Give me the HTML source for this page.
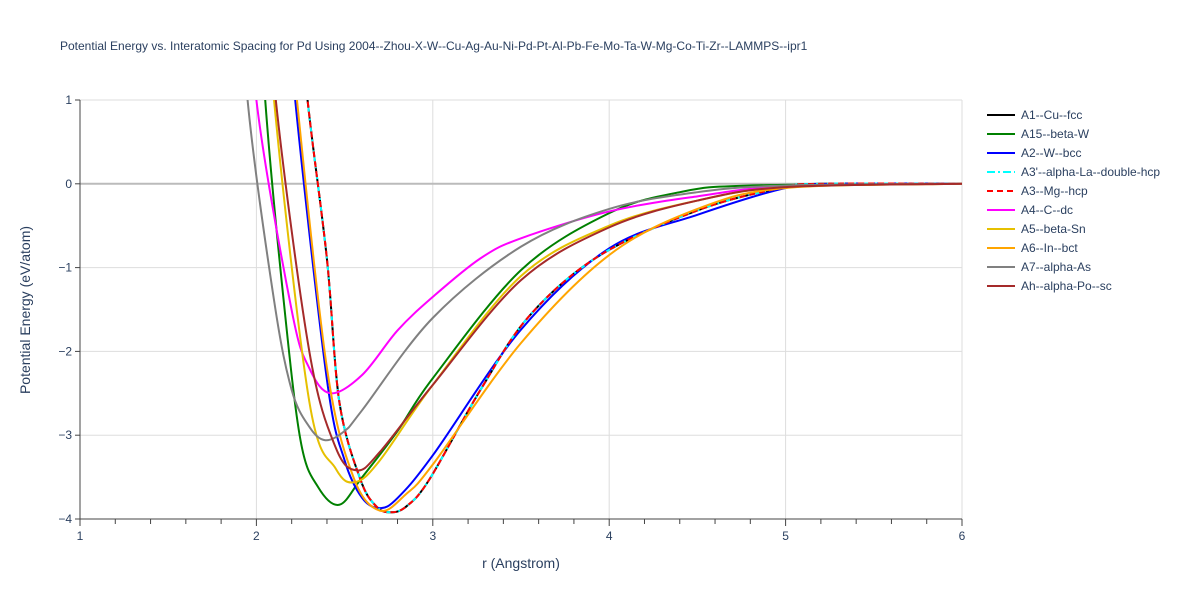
<!DOCTYPE html>
<html><head><meta charset="utf-8"><style>
body{margin:0;background:#fff;font-family:"Liberation Sans",sans-serif}
svg text{font-family:"Liberation Sans",sans-serif;fill:#2a3f5f}
</style></head><body>
<svg width="1200" height="600">
<text x="60" y="50" font-size="12">Potential Energy vs. Interatomic Spacing for Pd Using 2004--Zhou-X-W--Cu-Ag-Au-Ni-Pd-Pt-Al-Pb-Fe-Mo-Ta-W-Mg-Co-Ti-Zr--LAMMPS--ipr1</text>
<defs><clipPath id="cp"><rect x="80" y="100" width="882" height="419"/></clipPath></defs>
<g id="grid"></g>
<g id="series" clip-path="url(#cp)"></g>
<g id="axes"></g>
<text x="521" y="568" font-size="14" text-anchor="middle">r (Angstrom)</text>
<text transform="translate(30,310) rotate(-90)" font-size="14" text-anchor="middle">Potential Energy (eV/atom)</text>
<g id="legend"></g>
</svg>
<script>
const xTicks=[1,2,3,4,5,6];
const yTicks=[1,0,-1,-2,-3,-4];
const names=["A1--Cu--fcc","A15--beta-W","A2--W--bcc","A3'--alpha-La--double-hcp","A3--Mg--hcp","A4--C--dc","A5--beta-Sn","A6--In--bct","A7--alpha-As","Ah--alpha-Po--sc"];
const colors=["#000","green","blue","cyan","red","magenta","#e6c000","orange","gray","brown"];
const dashes=["","","","8,3,2,3","6,4","","","","",""];
const rA1=[2.2,2.29,2.4,2.47,2.59,2.68,2.76,2.85,2.98,3.27,3.55,3.95,4.51,4.97,5.2,6];
const eA1=[3,1,-0.9,-2.6,-3.53,-3.85,-3.92,-3.85,-3.53,-2.46,-1.57,-0.85,-0.31,-0.05,0,0];
const rA15=[2.0,2.05,2.15,2.25,2.35,2.47,2.6,2.8,3.0,3.5,4.0,4.4,4.8,6];
const eA15=[3,1,-1.3,-3.06,-3.62,-3.83,-3.5,-2.95,-2.32,-1.03,-0.35,-0.1,-0.02,0];
const rA2=[2.15,2.22,2.4,2.5,2.6,2.7,2.8,3.0,3.5,4.0,4.5,5.0,5.3,6];
const eA2=[3,1,-2.34,-3.3,-3.75,-3.87,-3.75,-3.24,-1.74,-0.77,-0.37,-0.05,0,0];
const rA4=[1.95,2.0,2.2,2.3,2.42,2.6,2.8,3.0,3.27,3.5,4.0,4.5,5.0,6];
const eA4=[3,1,-1.51,-2.2,-2.5,-2.28,-1.75,-1.35,-0.89,-0.65,-0.33,-0.15,-0.03,0];
const rA5=[2.05,2.1,2.3,2.45,2.56,2.7,3.0,3.5,4.0,4.5,5.0,6];
const eA5=[3,1,-2.6,-3.4,-3.56,-3.3,-2.4,-1.1,-0.5,-0.2,-0.04,0];
const rA6=[2.15,2.23,2.4,2.55,2.7,2.85,3.0,3.5,4.0,4.5,5.0,6];
const eA6=[3,1,-2.2,-3.5,-3.9,-3.7,-3.35,-1.9,-0.85,-0.3,-0.05,0];
const rA7=[1.9,1.95,2.1,2.2,2.3,2.39,2.5,2.6,3.0,3.5,4.0,4.5,5.0,6];
const eA7=[3,1,-1.39,-2.46,-2.9,-3.06,-2.95,-2.7,-1.6,-0.75,-0.3,-0.1,-0.02,0];
const rAh=[2.05,2.11,2.3,2.45,2.57,2.7,3.0,3.5,4.0,4.5,5.0,6];
const eAh=[3,1,-2.0,-3.15,-3.42,-3.2,-2.4,-1.15,-0.52,-0.2,-0.04,0];
const seriesR=[rA1,rA15,rA2,rA1,rA1,rA4,rA5,rA6,rA7,rAh];
const seriesE=[eA1,eA15,eA2,eA1,eA1,eA4,eA5,eA6,eA7,eAh];
const X=r=>80+(r-1)*176.4, Y=e=>183.8-e*83.8;
const NS="http://www.w3.org/2000/svg";
function mk(t,a,p){const e=document.createElementNS(NS,t);for(const k in a)e.setAttribute(k,a[k]);p.appendChild(e);return e;}
const g=document.getElementById('grid'),ax=document.getElementById('axes');
xTicks.forEach(t=>{if(t>1){const l=mk('line',{x1:X(t),x2:X(t),y1:100,y2:519,stroke:'#ddd'},g);

}
const tx=mk('text',{x:X(t),y:540,'font-size':12,'text-anchor':'middle'},ax);tx.textContent=t;

});
for(let v=1.2;v<6;v+=0.2){if(Math.abs(v-Math.round(v))>0.01)mk('line',{x1:X(v),x2:X(v),y1:519,y2:524,stroke:'#444'},ax);}
xTicks.forEach(t=>mk('line',{x1:X(t),x2:X(t),y1:519,y2:526,stroke:'#444'},ax));
yTicks.forEach(t=>{const l=mk('line',{x1:80,x2:962,y1:Y(t),y2:Y(t),stroke:t==0?'#bbb':'#ddd','stroke-width':t==0?2:1},g);


const tx=mk('text',{x:72,y:Y(t)+4,'font-size':12,'text-anchor':'end'},ax);tx.textContent=(t<0?'−':'')+Math.abs(t);


mk('line',{x1:75,x2:80,y1:Y(t),y2:Y(t),stroke:'#444'},ax);});
mk('line',{x1:80,x2:962,y1:519,y2:519,stroke:'#444'},ax);
mk('line',{x1:80,x2:80,y1:100,y2:519,stroke:'#444'},ax);
function path(rs,es){const p=rs.map((r,i)=>[X(r),Y(es[i])]);let d='M'+p[0];
for(let i=0;i<p.length-1;i++){const p0=p[Math.max(0,i-1)],p1=p[i],p2=p[i+1],p3=p[Math.min(p.length-1,i+2)];
const c1=[p1[0]+(p2[0]-p0[0])/6,p1[1]+(p2[1]-p0[1])/6],c2=[p2[0]-(p3[0]-p1[0])/6,p2[1]-(p3[1]-p1[1])/6];
d+='C'+c1+' '+c2+' '+p2;}return d;}
const sg=document.getElementById('series'),lg=document.getElementById('legend');
names.forEach((n,i)=>{const p=mk('path',{d:path(seriesR[i],seriesE[i]),fill:'none',stroke:colors[i],'stroke-width':2,'stroke-dasharray':dashes[i]},sg);


const y=115+i*19;
const l=mk('line',{x1:987,x2:1015,y1:y,y2:y,stroke:colors[i],'stroke-width':2,'stroke-dasharray':dashes[i]},lg);


const t=mk('text',{x:1021,y:y+4,'font-size':12},lg);t.textContent=n;

});
</script>
</body></html>
